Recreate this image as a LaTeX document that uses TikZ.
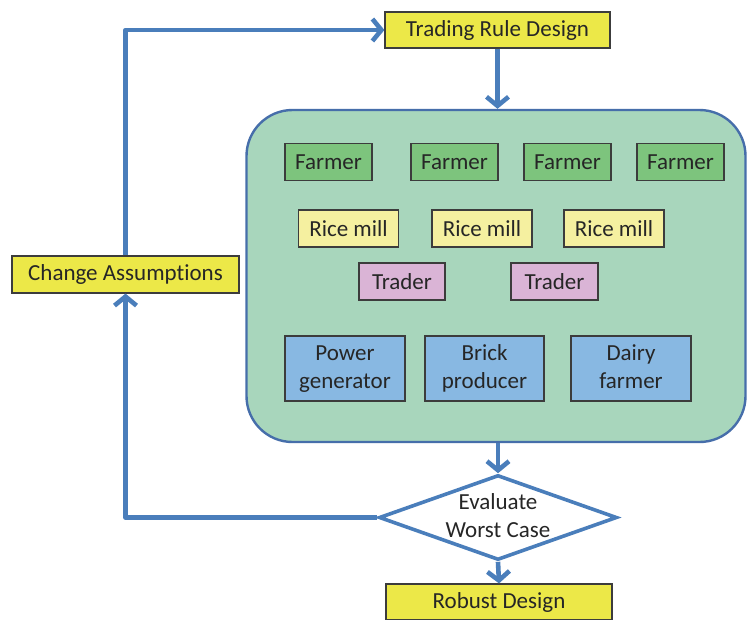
\documentclass[tikz,border=0pt]{standalone}
\usepackage{fontspec}
\setmainfont{Carlito}[Ligatures=NoCommon]
\usetikzlibrary{arrows.meta,shapes.geometric}

\definecolor{flowblue}{RGB}{74,126,187}
\definecolor{edgeblue}{RGB}{70,110,170}
\definecolor{titleyellow}{RGB}{236,232,72}
\definecolor{poolgreen}{RGB}{168,214,188}
\definecolor{farmgreen}{RGB}{125,196,125}
\definecolor{millyellow}{RGB}{245,240,160}
\definecolor{tradepink}{RGB}{218,180,214}
\definecolor{industblue}{RGB}{136,184,226}
\definecolor{boxedge}{RGB}{60,60,60}

\tikzset{
  every node/.style={font=\fontsize{23}{28}\selectfont, text=black!85},
  basebox/.style={draw=boxedge, line width=1.2pt, inner sep=0pt, align=center},
  titlebox/.style={basebox, fill=titleyellow, minimum height=36pt},
  farmbox/.style={basebox, fill=farmgreen, minimum width=87pt, minimum height=37pt},
  millbox/.style={basebox, fill=millyellow, minimum width=100pt, minimum height=37pt},
  tradebox/.style={basebox, fill=tradepink, minimum width=86pt, minimum height=37pt},
  industbox/.style={basebox, fill=industblue, minimum width=119pt, minimum height=65pt},
  flow/.style={draw=flowblue, line width=4.6pt, line join=round,
    -{Straight Barb[length=9pt,width=22pt]}},
}

\begin{document}
\begin{tikzpicture}[x=1pt,y=-1pt]
  \useasboundingbox (0,0) rectangle (747,619);
  \fill[white] (0,0) rectangle (747,619);

  % main flow boxes
  \node[titlebox, minimum width=225pt] (trd) at (497.5,30) {Trading Rule Design};
  \node[titlebox, minimum width=227pt, minimum height=37pt] (change) at (125.5,274.5) {Change Assumptions};
  \node[titlebox, minimum width=226pt] (robust) at (499,602) {Robust Design};

  % market pool
  \node[draw=edgeblue, fill=poolgreen, line width=2.4pt, rounded corners=46pt,
        minimum width=499pt, minimum height=332pt, inner sep=0pt] (pool) at (496,276) {};

  % participants
  \node[farmbox] (f1) at (328.5,162) {Farmer};
  \node[farmbox] (f2) at (454.5,162) {Farmer};
  \node[farmbox] (f3) at (567.5,162) {Farmer};
  \node[farmbox] (f4) at (680.5,162) {Farmer};

  \node[millbox] (r1) at (348.5,228.5) {Rice mill};
  \node[millbox] (r2) at (482,228.5) {Rice mill};
  \node[millbox] (r3) at (614,228.5) {Rice mill};

  \node[tradebox] (t1) at (402,281.5) {Trader};
  \node[tradebox, minimum width=87pt] (t2) at (554.5,281.5) {Trader};

  \node[industbox, minimum width=120pt] (pg) at (345,368.5) {\strut Power\\generator\strut};
  \node[industbox] (bp) at (484.5,368.5) {\strut Brick\\producer\strut};
  \node[industbox, minimum width=120pt] (df) at (631,368.5) {\strut Dairy\\farmer\strut};

  % decision
  \node[diamond, draw=flowblue, fill=white, line width=3.6pt, inner sep=0pt,
        minimum width=238pt, minimum height=85pt,
        label={[align=center]center:\strut Evaluate\\Worst Case\strut}] (eval) at (498,517.5) {};

  % connectors
  \draw[flow] (trd.south) -- (trd.south |- pool.north);
  \draw[flow] (eval.north |- pool.south) -- (eval.north);
  \draw[flow] (eval.south) -- (robust.north);
  \draw[flow] (eval.west) -| (change.south);
  \draw[flow] (change.north) |- (trd.west);
\end{tikzpicture}
\end{document}
